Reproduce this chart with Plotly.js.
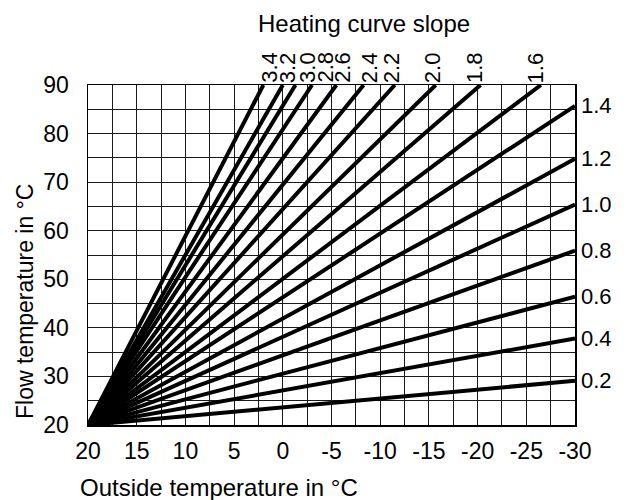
<!DOCTYPE html>
<html>
<head>
<meta charset="utf-8">
<script src="https://cdn.plot.ly/plotly-3.0.1.min.js"></script>
<style>html,body{margin:0;padding:0;background:#fff;}#chart{width:627px;height:500px;}</style>
</head>
<body>
<div id="chart"></div>
<script>
// Heating curve slopes and where each line ends (outside temp, flow temp)
const slopes   = ["0.2","0.4","0.6","0.8","1.0","1.2","1.4","1.6","1.8","2.0","2.2","2.4","2.6","2.8","3.0","3.2","3.4"];
const endOutside = [-30, -30, -30, -30, -30, -30, -30, -26.5, -20.3, -15.7, -11.5, -8.3, -5.5, -3.0, -1.3, 0.0, 2.0];
const endFlow    = [29.1, 37.8, 46.4, 55.9, 65.4, 74.8, 85.7, 90, 90, 90, 90, 90, 90, 90, 90, 90, 90];
const startOutside = 20;
const startFlow = 20;
const xTicks = [20, 15, 10, 5, 0, -5, -10, -15, -20, -25, -30];
const yTicks = [20, 30, 40, 50, 60, 70, 80, 90];

// layout tweak: pixel shift of the crowded top labels
const labelShift = {"3.4":6,"3.2":5,"3.0":12,"2.8":13,"2.6":6,"2.4":6,"2.2":-3,"2.0":-3,"1.8":-6,"1.6":-5};

const font = "Liberation Sans, Arial, sans-serif";
const traces = slopes.map((s, i) => ({
  type: "scatter", mode: "lines",
  x: [startOutside, endOutside[i]],
  y: [startFlow, endFlow[i]],
  line: {color: "#000", width: 4},
  hoverinfo: "skip", showlegend: false, cliponaxis: false
}));

const annotations = [];
slopes.forEach((s, i) => {
  if (endFlow[i] >= 90) {
    annotations.push({x: endOutside[i], y: endFlow[i], xref: "x", yref: "y", text: s,
      textangle: -90, showarrow: false, xanchor: "center", yanchor: "bottom",
      xshift: labelShift[s] || 0, yshift: 0, font: {family: font, size: 22, color: "#000"}});
  } else {
    annotations.push({x: endOutside[i], y: endFlow[i], xref: "x", yref: "y", text: s,
      showarrow: false, xanchor: "left", yanchor: "middle", xshift: 4,
      font: {family: font, size: 22, color: "#000"}});
  }
});
annotations.push({text: "Heating curve slope", xref: "paper", yref: "paper", x: 0.567, y: 1, yshift: 62,
  xanchor: "center", yanchor: "middle", showarrow: false, font: {family: font, size: 24, color: "#000"}});
annotations.push({text: "Outside temperature in °C", xref: "paper", yref: "paper", x: 0, xshift: -10, y: 0, yshift: -62,
  xanchor: "left", yanchor: "middle", showarrow: false, font: {family: font, size: 24, color: "#000"}});
annotations.push({text: "Flow temperature in °C", xref: "paper", yref: "paper", x: 0, xshift: -63, y: 0.5, yshift: -47,
  textangle: -90, xanchor: "center", yanchor: "middle", showarrow: false, font: {family: font, size: 23, color: "#000"}});

const layout = {
  width: 627, height: 500,
  margin: {l: 88, r: 52, t: 85, b: 75},
  paper_bgcolor: "#fff", plot_bgcolor: "#fff",
  font: {family: font, size: 23, color: "#000"},
  xaxis: {range: [20, -30], tickvals: xTicks, ticktext: xTicks.map(String),
    showgrid: true, gridcolor: "#1a1a1a", gridwidth: 1,
    minor: {dtick: 2.5, tick0: 0, showgrid: true, gridcolor: "#1a1a1a", gridwidth: 1},
    showline: true, linecolor: "#000", linewidth: 1.5, mirror: true,
    zeroline: false, ticks: "", ticklabelstandoff: 5, tickfont: {size: 23}},
  yaxis: {range: [20, 90], tickvals: yTicks, ticktext: yTicks.map(String),
    showgrid: true, gridcolor: "#1a1a1a", gridwidth: 1,
    minor: {dtick: 5, tick0: 0, showgrid: true, gridcolor: "#1a1a1a", gridwidth: 1},
    showline: true, linecolor: "#000", linewidth: 1.5, mirror: true,
    zeroline: false, ticks: "", ticklabelstandoff: 13, tickfont: {size: 23}},
  annotations: annotations
};
Plotly.newPlot("chart", traces, layout, {staticPlot: true, displayModeBar: false});
</script>
</body>
</html>
